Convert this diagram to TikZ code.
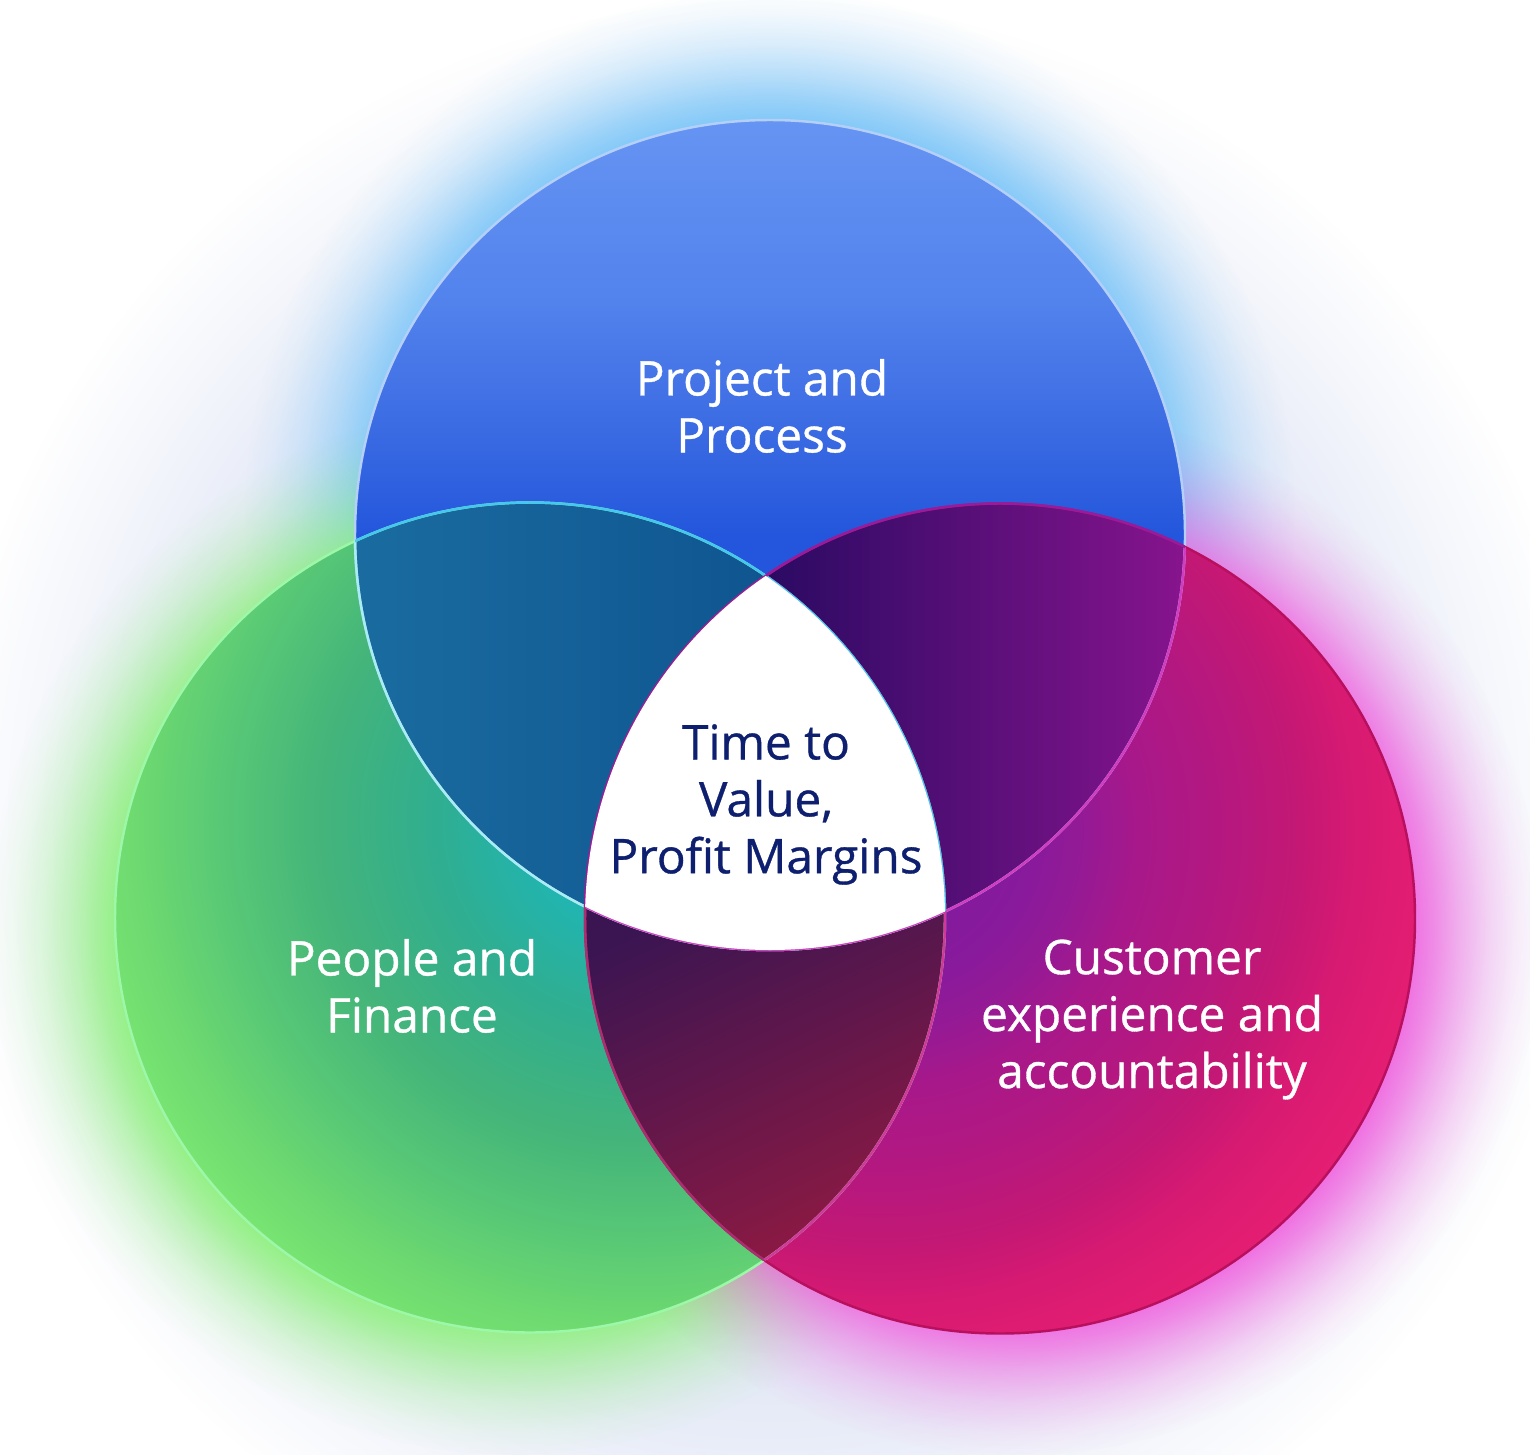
\documentclass[tikz,border=0pt]{standalone}
\usepackage{fontspec}
\setmainfont{Open Sans}
\newfontfamily\lblfont{Open Sans}[FakeBold=0.7]
\usetikzlibrary{fadings}

% ---------- colours ----------
\definecolor{glowB}{HTML}{7CC6F8}
\definecolor{glowG}{HTML}{8EF07E}
\definecolor{glowP}{HTML}{F068E0}
\definecolor{hazeC}{HTML}{D8DFF3}
\definecolor{bA}{HTML}{2356DC}
\definecolor{bB}{HTML}{3A6AE2}
\definecolor{bC}{HTML}{5282EC}
\definecolor{bD}{HTML}{6694F3}
\definecolor{gA}{HTML}{1FB8B8}
\definecolor{gB}{HTML}{22B4AE}
\definecolor{gC}{HTML}{30AE90}
\definecolor{gD}{HTML}{44B47A}
\definecolor{gE}{HTML}{58C876}
\definecolor{gF}{HTML}{6CD870}
\definecolor{gG}{HTML}{7AE672}
\definecolor{pA}{HTML}{7A1AA2}
\definecolor{pB}{HTML}{881A9C}
\definecolor{pC}{HTML}{931A96}
\definecolor{pD}{HTML}{A8188A}
\definecolor{pE}{HTML}{B41880}
\definecolor{pF}{HTML}{C41874}
\definecolor{pG}{HTML}{D81A72}
\definecolor{pH}{HTML}{E41E72}
\definecolor{pI}{HTML}{EE2070}
\definecolor{bgL}{HTML}{1A6CA0}
\definecolor{bgR}{HTML}{0F5590}
\definecolor{bpL}{HTML}{280A62}
\definecolor{bpR}{HTML}{88148E}
\definecolor{gpT}{HTML}{3A1552}
\definecolor{gpB}{HTML}{921A42}
\definecolor{navy}{HTML}{0D1F6E}
\definecolor{rimB}{HTML}{B4CFF8}
\definecolor{rimBG}{HTML}{A8ECF4}
\definecolor{rimBP}{HTML}{D23CC0}
\definecolor{rimG}{HTML}{9CF7A8}
\definecolor{rimGB}{HTML}{44C8F0}
\definecolor{rimGP}{HTML}{D0389C}
\definecolor{rimP}{HTML}{B8105E}
\definecolor{rimPB}{HTML}{9A1A9C}
\definecolor{rimPG}{HTML}{A83070}

% ---------- fadings (path edge = 25bp) ----------
\pgfdeclareradialshading{glowshade}{\pgfpointorigin}{%
  color(0bp)=(white!92!black); color(18.81bp)=(white!92!black);
  color(19.76bp)=(white!75!black); color(20.95bp)=(white!50!black);
  color(22.38bp)=(white!25!black); color(23.81bp)=(white!8!black);
  color(25bp)=(black); color(50bp)=(black)}
\pgfdeclarefading{glowfade}{\pgfuseshading{glowshade}}
\pgfdeclareradialshading{hazeshade}{\pgfpointorigin}{%
  color(0bp)=(white!85!black); color(14bp)=(white!85!black);
  color(19bp)=(white!55!black); color(22.4bp)=(white!22!black);
  color(25bp)=(black); color(50bp)=(black)}
\pgfdeclarefading{hazefade}{\pgfuseshading{hazeshade}}

% ---------- shadings (path spans 25bp..75bp) ----------
\pgfdeclareverticalshading{blueshade}{100bp}{%
  color(0bp)=(bA); color(50bp)=(bA); color(56bp)=(bB);
  color(64bp)=(bC); color(75bp)=(bD); color(100bp)=(bD)}
\pgfdeclareradialshading{greenshade}{\pgfpointorigin}{%
  color(0bp)=(gA); color(5bp)=(gB); color(9bp)=(gC);
  color(14bp)=(gD); color(18.4bp)=(gE); color(21.9bp)=(gF);
  color(25bp)=(gG); color(50bp)=(gG)}
\pgfdeclareradialshading{pinkshade}{\pgfpointorigin}{%
  color(0bp)=(pA); color(5.4bp)=(pB); color(7.1bp)=(pC);
  color(9.3bp)=(pD); color(12.1bp)=(pE); color(15bp)=(pF);
  color(17.1bp)=(pG); color(20bp)=(pH); color(25bp)=(pI); color(50bp)=(pI)}

\tikzset{
  lbl/.style={text=white, align=center, inner sep=0pt,
    font=\lblfont\fontsize{13.6pt}{16.2pt}\selectfont},
  ctrlbl/.style={lbl, text=navy},
  rim/.style={line width=0.7pt},
  glow/.style={path fading=glowfade, fit fading=true}
}

\begin{document}
\begin{tikzpicture}
\path[use as bounding box, fill=white] (0,0) rectangle (15.3,-14.55);

\coordinate (B) at (7.70,-5.35);
\coordinate (G) at (5.30,-9.175);
\coordinate (P) at (10.00,-9.185);
\coordinate (GH) at (6.40,-8.20);
\coordinate (PH) at (8.80,-8.30);
\coordinate (HZ) at (7.70,-8.20);
\coordinate (BG) at (7.70,-5.15);
\coordinate (GG) at (5.14,-9.295);
\coordinate (PG) at (10.16,-9.305);
\def\R{4.15}

% haze and glows
\fill[hazeC, path fading=hazefade, fit fading=true] (HZ) circle (8.2);
\fill[glowB, glow] (BG) circle (5.25);
\fill[glowG, glow] (GG) circle (5.25);
\fill[glowP, glow] (PG) circle (5.25);

% circle bodies
\shade[shading=blueshade] (B) circle (\R);
\begin{scope}
  \clip (G) circle (\R);
  \shade[shading=greenshade] (GH) circle (5.7);
\end{scope}
\begin{scope}
  \clip (P) circle (\R);
  \shade[shading=pinkshade] (PH) circle (7.0);
\end{scope}

% pairwise overlaps
\begin{scope}
  \clip (B) circle (\R);
  \clip (G) circle (\R);
  \shade[left color=bgL, right color=bgR] (3.50,-4.9) rectangle (7.75,-9.3);
\end{scope}
\begin{scope}
  \clip (B) circle (\R);
  \clip (P) circle (\R);
  \shade[left color=bpL, right color=bpR] (7.55,-4.9) rectangle (11.9,-9.3);
\end{scope}
\begin{scope}
  \clip (G) circle (\R);
  \clip (P) circle (\R);
  \shade[top color=gpT, bottom color=gpB, shading angle=25] (5.70,-8.9) rectangle (9.60,-12.75);
\end{scope}

% rims
\draw[rim, draw=rimB] (B) circle (\R);
\draw[rim, draw=rimG] (G) circle (\R);
\draw[rim, draw=rimP] (P) circle (\R);
\begin{scope}
  \clip (G) circle (\R);
  \draw[rim, draw=rimBG] (B) circle (\R);
  \draw[rim, draw=rimPG] (P) circle (\R);
\end{scope}
\begin{scope}
  \clip (P) circle (\R);
  \draw[rim, draw=rimBP] (B) circle (\R);
  \draw[rim, draw=rimGP] (G) circle (\R);
\end{scope}
\begin{scope}
  \clip (B) circle (\R);
  \draw[rim, draw=rimGB] (G) circle (\R);
  \draw[rim, draw=rimPB] (P) circle (\R);
\end{scope}

% white centre
\begin{scope}
  \clip (B) circle (\R);
  \clip (G) circle (\R);
  \fill[white] (P) circle (\R);
\end{scope}

% labels
\node[lbl] (pp) at (7.62,-4.06) {Project and\\Process};
\node[lbl] (pf) at (4.12,-9.86) {People and\\Finance};
\node[lbl] (ce) at (11.52,-10.195) {Customer\\experience and\\accountability};
\node[ctrlbl] (tv) at (7.66,-8.045) {Time to\\Value,\\Profit Margins};
\end{tikzpicture}
\end{document}
